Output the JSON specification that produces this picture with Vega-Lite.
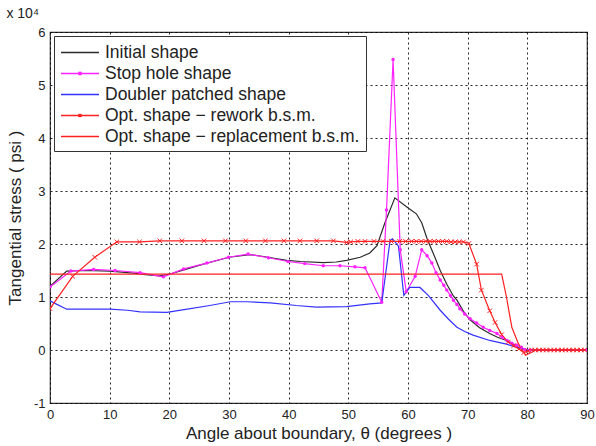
{
  "$schema": "https://vega.github.io/schema/vega-lite/v6.json",
  "width": 537,
  "height": 371,
  "autosize": {"type": "none"},
  "padding": {"left": 50, "top": 32, "right": 9, "bottom": 43},
  "background": "white",
  "title": {"text": "x 10⁴", "anchor": "start", "fontSize": 14, "font": "Liberation Sans", "fontWeight": "normal", "color": "#222", "offset": 5},
  "config": {
    "view": {"stroke": "#333", "strokeWidth": 1.2},
    "axis": {"labelFont": "Liberation Sans", "titleFont": "Liberation Sans", "labelColor": "#222", "titleColor": "#222", "labelFontSize": 13, "titleFontSize": 17, "titleFontWeight": "normal", "grid": true, "gridColor": "#000", "gridDash": [2, 3], "gridOpacity": 0.85, "gridWidth": 1, "ticks": false, "domain": false}
  },
  "datasets": {
    "rows": [
      {"s": "I", "x": 0, "y": 1.2}, {"s": "I", "x": 2.8, "y": 1.49}, {"s": "I", "x": 6, "y": 1.5}, {"s": "I", "x": 10, "y": 1.49}, {"s": "I", "x": 14, "y": 1.45}, {"s": "I", "x": 16, "y": 1.42}, {"s": "I", "x": 18.4, "y": 1.4}, {"s": "I", "x": 20, "y": 1.43}, {"s": "I", "x": 23, "y": 1.53}, {"s": "I", "x": 26, "y": 1.63}, {"s": "I", "x": 30, "y": 1.75}, {"s": "I", "x": 33.5, "y": 1.8}, {"s": "I", "x": 36, "y": 1.76}, {"s": "I", "x": 39.7, "y": 1.69}, {"s": "I", "x": 42, "y": 1.67}, {"s": "I", "x": 45.8, "y": 1.65}, {"s": "I", "x": 48, "y": 1.66}, {"s": "I", "x": 49.7, "y": 1.69}, {"s": "I", "x": 52, "y": 1.75}, {"s": "I", "x": 53.6, "y": 1.83}, {"s": "I", "x": 54.8, "y": 1.97}, {"s": "I", "x": 56.1, "y": 2.39}, {"s": "I", "x": 57.8, "y": 2.87}, {"s": "I", "x": 59.8, "y": 2.7}, {"s": "I", "x": 61.4, "y": 2.57}, {"s": "I", "x": 62.3, "y": 2.4}, {"s": "I", "x": 63.2, "y": 2.1}, {"s": "I", "x": 64.4, "y": 1.78}, {"s": "I", "x": 65.4, "y": 1.5}, {"s": "I", "x": 66.5, "y": 1.24}, {"s": "I", "x": 67.6, "y": 1.02}, {"s": "I", "x": 68.2, "y": 0.94}, {"s": "I", "x": 69.3, "y": 0.73}, {"s": "I", "x": 70.4, "y": 0.57}, {"s": "I", "x": 72, "y": 0.42}, {"s": "I", "x": 73.7, "y": 0.31}, {"s": "I", "x": 75, "y": 0.24}, {"s": "I", "x": 76.5, "y": 0.18}, {"s": "I", "x": 77.8, "y": 0.1}, {"s": "I", "x": 78.8, "y": 0.03}, {"s": "I", "x": 80, "y": 0}, {"s": "I", "x": 90, "y": 0},

      {"s": "S", "x": 0, "y": 1.19}, {"s": "S", "x": 3.5, "y": 1.49}, {"s": "S", "x": 7.3, "y": 1.52}, {"s": "S", "x": 10.9, "y": 1.5}, {"s": "S", "x": 15.1, "y": 1.46}, {"s": "S", "x": 19, "y": 1.38}, {"s": "S", "x": 22.4, "y": 1.53}, {"s": "S", "x": 26.3, "y": 1.64}, {"s": "S", "x": 29.9, "y": 1.75}, {"s": "S", "x": 33.2, "y": 1.81}, {"s": "S", "x": 36.6, "y": 1.74}, {"s": "S", "x": 39.9, "y": 1.67}, {"s": "S", "x": 42.7, "y": 1.63}, {"s": "S", "x": 45.8, "y": 1.59}, {"s": "S", "x": 48.6, "y": 1.59}, {"s": "S", "x": 51.1, "y": 1.57}, {"s": "S", "x": 52.8, "y": 1.55}, {"s": "S", "x": 55.6, "y": 0.9}, {"s": "S", "x": 56.4, "y": 2.64}, {"s": "S", "x": 57.5, "y": 5.48}, {"s": "S", "x": 58.7, "y": 1.89}, {"s": "S", "x": 59.7, "y": 1.1}, {"s": "S", "x": 61.2, "y": 1.39}, {"s": "S", "x": 62.3, "y": 1.89}, {"s": "S", "x": 63.2, "y": 1.78}, {"s": "S", "x": 64, "y": 1.64}, {"s": "S", "x": 64.7, "y": 1.46}, {"s": "S", "x": 65.4, "y": 1.32}, {"s": "S", "x": 66, "y": 1.22}, {"s": "S", "x": 66.5, "y": 1.13}, {"s": "S", "x": 67.1, "y": 1.03}, {"s": "S", "x": 67.6, "y": 0.94}, {"s": "S", "x": 68.2, "y": 0.86}, {"s": "S", "x": 68.7, "y": 0.78}, {"s": "S", "x": 69.5, "y": 0.68}, {"s": "S", "x": 70.4, "y": 0.59}, {"s": "S", "x": 71.5, "y": 0.51}, {"s": "S", "x": 72.6, "y": 0.43}, {"s": "S", "x": 73.7, "y": 0.37}, {"s": "S", "x": 74.9, "y": 0.31}, {"s": "S", "x": 75.8, "y": 0.24}, {"s": "S", "x": 76.6, "y": 0.18}, {"s": "S", "x": 77.4, "y": 0.13}, {"s": "S", "x": 78.2, "y": 0.09}, {"s": "S", "x": 79, "y": 0.05}, {"s": "S", "x": 79.6, "y": 0.01}, {"s": "S", "x": 80.5, "y": 0}, {"s": "S", "x": 90, "y": 0},

      {"s": "D", "x": 0, "y": 0.93}, {"s": "D", "x": 1, "y": 0.87}, {"s": "D", "x": 2.8, "y": 0.77}, {"s": "D", "x": 6, "y": 0.77}, {"s": "D", "x": 10, "y": 0.77}, {"s": "D", "x": 13, "y": 0.75}, {"s": "D", "x": 15.1, "y": 0.72}, {"s": "D", "x": 19.6, "y": 0.71}, {"s": "D", "x": 23, "y": 0.77}, {"s": "D", "x": 26.8, "y": 0.84}, {"s": "D", "x": 30.2, "y": 0.91}, {"s": "D", "x": 33, "y": 0.91}, {"s": "D", "x": 36.9, "y": 0.89}, {"s": "D", "x": 41.3, "y": 0.84}, {"s": "D", "x": 44.7, "y": 0.81}, {"s": "D", "x": 49.7, "y": 0.82}, {"s": "D", "x": 53.6, "y": 0.87}, {"s": "D", "x": 55.6, "y": 0.89}, {"s": "D", "x": 57, "y": 2.07}, {"s": "D", "x": 57.4, "y": 2.1}, {"s": "D", "x": 58.4, "y": 1.96}, {"s": "D", "x": 59.3, "y": 1.03}, {"s": "D", "x": 60.3, "y": 1.18}, {"s": "D", "x": 62, "y": 1.18}, {"s": "D", "x": 63.4, "y": 1.03}, {"s": "D", "x": 65.4, "y": 0.75}, {"s": "D", "x": 66.8, "y": 0.58}, {"s": "D", "x": 68.2, "y": 0.43}, {"s": "D", "x": 69.5, "y": 0.35}, {"s": "D", "x": 70.9, "y": 0.28}, {"s": "D", "x": 73.7, "y": 0.18}, {"s": "D", "x": 76.5, "y": 0.11}, {"s": "D", "x": 78.8, "y": 0.03}, {"s": "D", "x": 80, "y": 0}, {"s": "D", "x": 90, "y": 0},

      {"s": "R", "x": 0, "y": 0.78}, {"s": "R", "x": 3.8, "y": 1.39}, {"s": "R", "x": 7.5, "y": 1.75}, {"s": "R", "x": 11.2, "y": 2.04}, {"s": "R", "x": 15, "y": 2.04}, {"s": "R", "x": 18.4, "y": 2.06}, {"s": "R", "x": 22.1, "y": 2.06}, {"s": "R", "x": 25.8, "y": 2.06}, {"s": "R", "x": 29.4, "y": 2.06}, {"s": "R", "x": 32.8, "y": 2.06}, {"s": "R", "x": 36.1, "y": 2.06}, {"s": "R", "x": 39.2, "y": 2.06}, {"s": "R", "x": 41.9, "y": 2.06}, {"s": "R", "x": 44.7, "y": 2.06}, {"s": "R", "x": 47.5, "y": 2.06}, {"s": "R", "x": 49.7, "y": 2.03}, {"s": "R", "x": 50.4, "y": 2.04}, {"s": "R", "x": 51.6, "y": 2.05}, {"s": "R", "x": 52.8, "y": 2.05}, {"s": "R", "x": 54.3, "y": 2.05}, {"s": "R", "x": 55.8, "y": 2.05}, {"s": "R", "x": 57.2, "y": 2.05}, {"s": "R", "x": 58.6, "y": 2.05}, {"s": "R", "x": 59.6, "y": 2.05}, {"s": "R", "x": 60.6, "y": 2.05}, {"s": "R", "x": 61.4, "y": 2.05}, {"s": "R", "x": 62.2, "y": 2.05}, {"s": "R", "x": 63, "y": 2.05}, {"s": "R", "x": 63.7, "y": 2.05}, {"s": "R", "x": 64.4, "y": 2.05}, {"s": "R", "x": 65.1, "y": 2.05}, {"s": "R", "x": 65.8, "y": 2.05}, {"s": "R", "x": 66.5, "y": 2.05}, {"s": "R", "x": 67.2, "y": 2.04}, {"s": "R", "x": 67.9, "y": 2.04}, {"s": "R", "x": 68.6, "y": 2.04}, {"s": "R", "x": 69.3, "y": 2.04}, {"s": "R", "x": 70.2, "y": 2.01}, {"s": "R", "x": 71.5, "y": 1.62}, {"s": "R", "x": 72.3, "y": 1.13}, {"s": "R", "x": 73.7, "y": 0.74}, {"s": "R", "x": 74.6, "y": 0.52}, {"s": "R", "x": 75.7, "y": 0.29}, {"s": "R", "x": 76.8, "y": 0.15}, {"s": "R", "x": 77.7, "y": 0.08}, {"s": "R", "x": 78.6, "y": 0.02}, {"s": "R", "x": 79.4, "y": -0.05}, {"s": "R", "x": 80.1, "y": -0.02}, {"s": "R", "x": 80.7, "y": 0}, {"s": "R", "x": 81.3, "y": 0}, {"s": "R", "x": 82, "y": 0}, {"s": "R", "x": 82.6, "y": 0}, {"s": "R", "x": 83.2, "y": 0}, {"s": "R", "x": 83.9, "y": 0}, {"s": "R", "x": 84.5, "y": 0}, {"s": "R", "x": 85.1, "y": 0}, {"s": "R", "x": 85.8, "y": 0}, {"s": "R", "x": 86.4, "y": 0}, {"s": "R", "x": 87, "y": 0}, {"s": "R", "x": 87.7, "y": 0}, {"s": "R", "x": 88.3, "y": 0}, {"s": "R", "x": 89, "y": 0}, {"s": "R", "x": 89.6, "y": 0},

      {"s": "P", "x": 0, "y": 1.43}, {"s": "P", "x": 75.7, "y": 1.43}, {"s": "P", "x": 76.5, "y": 1.0}, {"s": "P", "x": 77.4, "y": 0.43}, {"s": "P", "x": 78.5, "y": 0.12}, {"s": "P", "x": 79.7, "y": -0.1}, {"s": "P", "x": 81.5, "y": 0}, {"s": "P", "x": 90, "y": 0}
    ]
  },
  "data": {"name": "rows"},
  "encoding": {
    "x": {"field": "x", "type": "quantitative", "scale": {"domain": [0, 90], "nice": false, "zero": false}, "axis": {"values": [0, 10, 20, 30, 40, 50, 60, 70, 80, 90], "title": "Angle about boundary, θ (degrees )", "labelPadding": 5, "titlePadding": 4, "labelFlush": false}},
    "y": {"field": "y", "type": "quantitative", "scale": {"domain": [-1, 6], "nice": false, "zero": false}, "axis": {"values": [-1, 0, 1, 2, 3, 4, 5, 6], "title": "Tangential stress ( psi )", "labelPadding": 5, "titlePadding": 9, "labelExpr": "'' + datum.value", "labelFlush": false}}
  },
  "layer": [
    {
      "mark": {"type": "line", "strokeWidth": 1.2, "clip": true},
      "encoding": {
        "color": {
          "field": "s", "type": "nominal",
          "scale": {"domain": ["I", "S", "D", "R", "P"], "range": ["#2b2b2b", "#ff22ff", "#3333ff", "#ff2020", "#ff2020"]},
          "legend": {
            "orient": "top-left", "offset": 4, "title": null,
            "fillColor": "white", "strokeColor": "#333", "padding": 6,
            "labelFont": "Liberation Sans", "labelFontSize": 17.5, "labelColor": "#222", "labelLimit": 400, "labelOffset": 24,
            "symbolSize": 361, "symbolStrokeWidth": 1.5, "symbolType": "M-1,0H3", "rowPadding": 2,
            "labelExpr": "datum.value == 'I' ? 'Initial shape' : datum.value == 'S' ? 'Stop hole shape' : datum.value == 'D' ? 'Doubler patched shape' : datum.value == 'R' ? 'Opt. shape − rework b.s.m.' : 'Opt. shape − replacement b.s.m.'",
            "encode": {"symbols": {"update": {"shape": {"signal": "datum.value == 'S' ? 'M-1,0H3M0.9,-0.1H1.1V0.1H0.9Z' : datum.value == 'R' ? 'M-1,0H3M0.85,-0.15L1.15,0.15M0.85,0.15L1.15,-0.15' : 'M-1,0H3'"}}}}
          }
        }
      }
    },
    {
      "transform": [{"filter": "datum.s == 'S'"}],
      "mark": {"type": "point", "filled": true, "size": 12, "color": "#ff22ff", "opacity": 1, "clip": true}
    },
    {
      "transform": [{"filter": "datum.s == 'R'"}],
      "mark": {"type": "point", "shape": "M-1,-1L1,1M-1,1L1,-1", "size": 20, "color": "#ff2020", "filled": false, "strokeWidth": 1, "opacity": 1, "clip": true}
    }
  ]
}
